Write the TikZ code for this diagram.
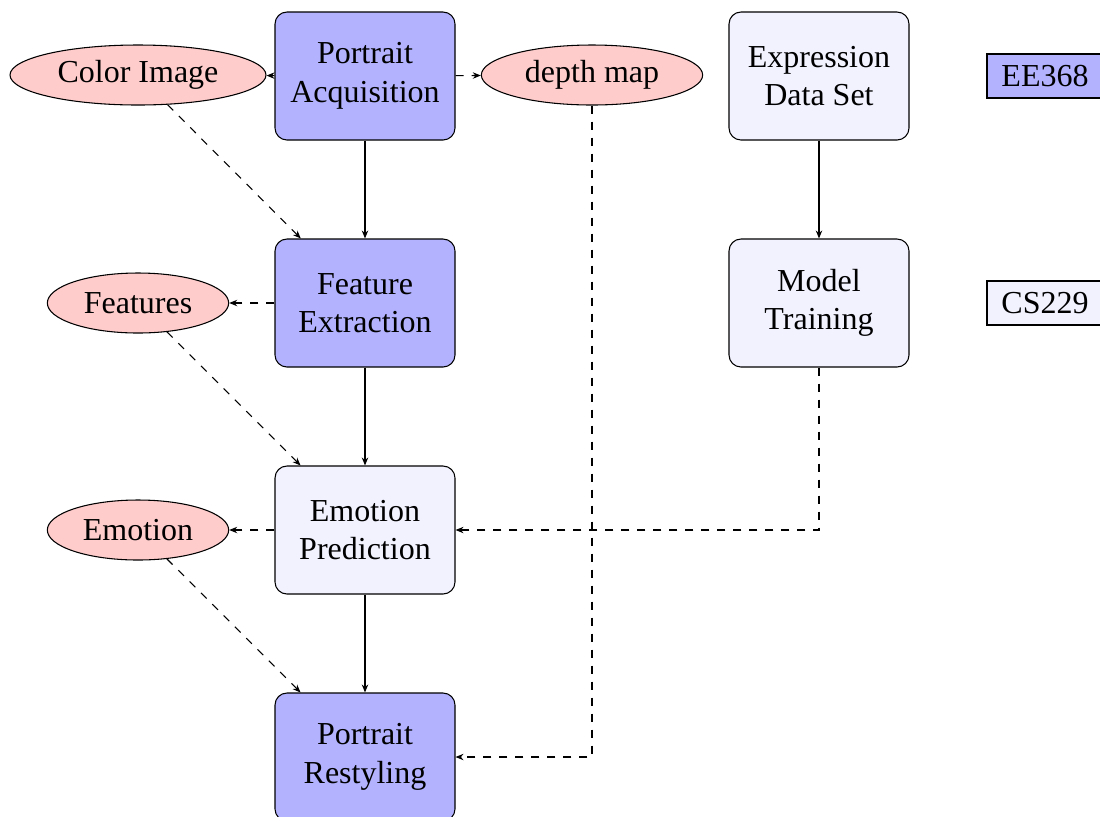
\documentclass[tikz,border=0pt]{standalone}
\usepackage{fontspec}
\setmainfont{Liberation Serif}
\usetikzlibrary{shapes.geometric,arrows.meta}
\begin{document}
\begin{tikzpicture}[x=0.375pt,y=-0.375pt,
  font=\fontsize{12}{14.4}\selectfont,
  stagebox/.style={draw=black,rounded corners=4.5pt,align=center,
    minimum width=67.5pt,minimum height=48pt,inner sep=0pt},
  dark/.style={stagebox,fill=blue!30},
  light/.style={stagebox,fill=blue!5},
  dataell/.style={ellipse,draw=black,fill=red!20,inner sep=0pt,minimum height=22.5pt},
  tagbox/.style={draw=black,minimum height=16.5pt,minimum width=43.5pt,inner sep=0pt},
  arr/.style={-{Stealth[length=3pt,width=2.4pt]},line width=0.4pt},
  darr/.style={arr,dashed}]
\useasboundingbox (0,0) rectangle (1100,816);
\node[dark]  (pa) at (365,76)  {Portrait\\Acquisition};
\node[dark]  (fe) at (365,303) {Feature\\Extraction};
\node[light] (ep) at (365,530) {Emotion\\Prediction};
\node[dark]  (pr) at (365,757) {Portrait\\Restyling};
\node[light] (eds) at (819,76) {Expression\\Data Set};
\node[light] (mt) at (819,303) {Model\\Training};
\node[dataell,minimum width=96pt] (ci) at (138,75) {Color Image};
\node[dataell,minimum width=83pt] (dm) at (592,75) {depth map};
\node[dataell,minimum width=68pt] (ft) at (138,303) {Features};
\node[dataell,minimum width=68pt] (em) at (138,530) {Emotion};
\node[tagbox,fill=blue!30] (ee) at (1045,76) {EE368};
\node[tagbox,fill=blue!5] (cs) at (1045,303) {CS229};
\coordinate (dmc) at (592,757);
\coordinate (mtc) at (819,530);
\draw[arr] (pa) -- (fe);
\draw[arr] (fe) -- (ep);
\draw[arr] (ep) -- (pr);
\draw[arr] (eds) -- (mt);
\draw[darr] (pa) -- (ci);
\draw[darr] (pa) -- (dm);
\draw[darr] (fe) -- (ft);
\draw[darr] (ep) -- (em);
\draw[darr] (ci) -- (fe);
\draw[darr] (ft) -- (ep);
\draw[darr] (em) -- (pr);
\draw[darr] (dm.south) -- (dmc) -- (pr.east);
\draw[darr] (mt.south) -- (mtc) -- (ep.east);
\end{tikzpicture}
\end{document}
